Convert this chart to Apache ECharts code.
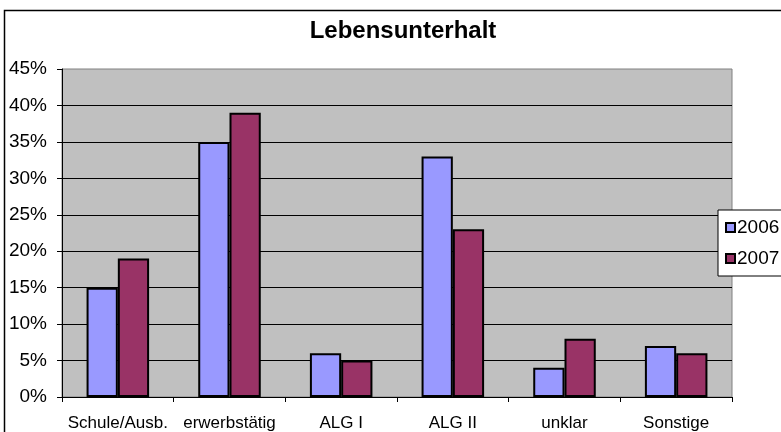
<!DOCTYPE html>
<html>
<head>
<meta charset="utf-8">
<script src="https://cdn.jsdelivr.net/npm/echarts@6/dist/echarts.min.js"></script>
<style>
html,body{margin:0;padding:0;background:#fff;}
#c{width:781px;height:432px;}
</style>
</head>
<body>
<div id="c"></div>
<script>
var categories = ['Schule/Ausb.', 'erwerbstätig', 'ALG I', 'ALG II', 'unklar', 'Sonstige'];
var values2006 = [15, 35, 6, 33, 4, 7];
var values2007 = [19, 39, 5, 23, 8, 6];
var seriesNames = ['2006', '2007'];
var chartTitle = 'Lebensunterhalt';

var chart = echarts.init(document.getElementById('c'), null, {renderer: 'canvas'});
var FONT = '"Liberation Sans", Arial, sans-serif';
chart.setOption({
  animation: false,
  backgroundColor: '#fff',
  graphic: [{
    type: 'rect', z: -10,
    shape: {x: 4.5, y: 10.5, width: 900, height: 600},
    style: {fill: '#fff', stroke: '#000', lineWidth: 1.5}
  }],
  title: {
    text: chartTitle, left: 398, textAlign: 'center', top: 14,
    textStyle: {fontFamily: FONT, fontSize: 24, fontWeight: 'bold', color: '#000'}
  },
  legend: {
    orient: 'vertical', left: 718, top: 210,
    padding: [8, 60, 8, 7],
    itemGap: 12, itemWidth: 9, itemHeight: 9, icon: 'rect',
    backgroundColor: '#fff', borderColor: '#000', borderWidth: 1,
    textStyle: {fontFamily: FONT, fontSize: 19, color: '#000', padding: [0,0,0,-3]},
    data: seriesNames
  },
  grid: {
    left: 62, right: 49, top: 69, bottom: 35,
    show: true, backgroundColor: '#C0C0C0', borderColor: '#808080', borderWidth: 1
  },
  xAxis: {
    type: 'category', data: categories,
    axisLine: {lineStyle: {color: '#000', width: 1}},
    axisTick: {show: true, length: 5, lineStyle: {color: '#000'}},
    axisLabel: {interval: 0, fontFamily: FONT, fontSize: 17, color: '#000', margin: 18}
  },
  yAxis: {
    type: 'value', min: 0, max: 45, interval: 5,
    axisLine: {show: true, lineStyle: {color: '#000', width: 1}},
    axisTick: {show: true, length: 5, lineStyle: {color: '#000'}},
    axisLabel: {fontFamily: FONT, fontSize: 19, color: '#000', margin: 15,
      formatter: function (v) { return v + '%'; }},
    splitLine: {show: true, showMaxLine: false, showMinLine: false, lineStyle: {color: '#000', width: 1}}
  },
  series: [{
    name: seriesNames[0], type: 'bar', data: values2006,
    barGap: '0%', barCategoryGap: '44%',
    itemStyle: {color: '#9999FF', borderColor: '#000', borderWidth: 2}
  }, {
    name: seriesNames[1], type: 'bar', data: values2007,
    barGap: '0%', barCategoryGap: '44%',
    itemStyle: {color: '#993366', borderColor: '#000', borderWidth: 2}
  }]
});
</script>
</body>
</html>
